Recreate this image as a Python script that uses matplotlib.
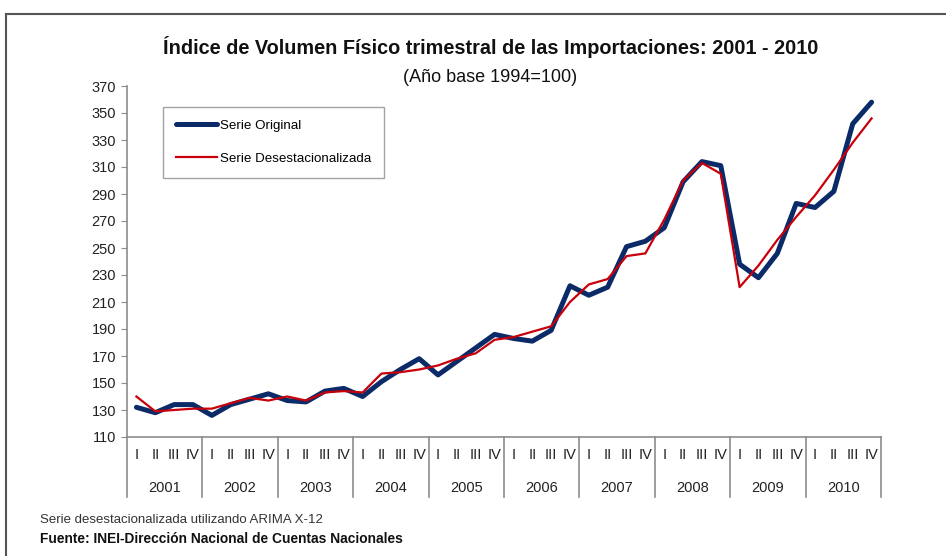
import numpy as np
import matplotlib.pyplot as plt
import matplotlib.transforms as mtransforms
from matplotlib import font_manager

years = ["2001", "2002", "2003", "2004", "2005", "2006", "2007", "2008", "2009", "2010"]
quarters = ["I", "II", "III", "IV"]

serie_original = [132, 128, 134, 134,
                  126, 134, 138, 142,
                  137, 136, 144, 146,
                  140, 151, 160, 168,
                  156, 166, 176, 186,
                  183, 181, 189, 222,
                  215, 221, 251, 255,
                  265, 299, 314, 311,
                  238, 228, 246, 283,
                  280, 292, 342, 358]

serie_desest = [140, 129, 130, 131,
                131, 135, 139, 137,
                140, 137, 143, 144,
                143, 157, 158, 160,
                163, 168, 172, 182,
                184, 188, 192, 210,
                223, 227, 244, 246,
                271, 300, 313, 305,
                221, 237, 256, 273,
                289, 308, 328, 346]

names = {f.name for f in font_manager.fontManager.ttflist}
fam = "Liberation Sans Narrow" if "Liberation Sans Narrow" in names else "Liberation Sans"
plt.rcParams['font.family'] = [fam, 'DejaVu Sans']

fig = plt.figure(figsize=(9.46, 5.56), dpi=100)
ax = fig.add_axes([127/946, 1-437/556, (881-127)/946, (437-86)/556])

x = np.arange(len(serie_original))
ax.plot(x, serie_original, color="#0b2a68", lw=3.6, solid_capstyle="round",
        label="Serie Original", zorder=3)
ax.plot(x, serie_desest, color="#c8000a", lw=1.6, label="Serie Desestacionalizada", zorder=4)

ax.set_xlim(-0.5, len(x) - 0.5)
ax.set_ylim(110, 370)
ax.set_yticks(np.arange(110, 371, 20))
ax.set_xticks([])
for s in ["top", "right"]:
    ax.spines[s].set_visible(False)
for s in ["left", "bottom"]:
    ax.spines[s].set_color("#8c8c8c")
    ax.spines[s].set_linewidth(1.2)
ax.tick_params(axis="y", direction="out", length=4, color="#8c8c8c", labelsize=10.5,
               labelcolor="#222222", pad=4)

# category axis: quarters and years
trans = mtransforms.blended_transform_factory(ax.transData, ax.transAxes)
for i in range(len(years) + 1):
    ax.plot([i * 4 - 0.5, i * 4 - 0.5], [0, -0.171], transform=trans, color="#8c8c8c",
            lw=1.2, clip_on=False)
for i, yr in enumerate(years):
    for j, q in enumerate(quarters):
        ax.text(i * 4 + j, -0.052, q, transform=trans, ha="center", va="center",
                fontsize=10.5, color="#222222")
    ax.text(i * 4 + 1.5, -0.145, yr, transform=trans, ha="center", va="center",
            fontsize=10.5, color="#222222")

leg = ax.legend(loc="upper left", bbox_to_anchor=((163-127)/754, 1-(107-86)/351),
                borderaxespad=0, frameon=True, fancybox=False, edgecolor="#8c8c8c",
                fontsize=9.6, handlelength=3.1, labelspacing=1.55, borderpad=0.95,
                handletextpad=0.2)
leg.get_frame().set_linewidth(1.0)

fig.text(491/946, 1-47/556, "Índice de Volumen Físico trimestral de las Importaciones: 2001 - 2010",
         ha="center", va="center", fontsize=14.3, fontweight="bold", color="#111111")
fig.text(490/946, 1-77/556, "(Año base 1994=100)", ha="center", va="center",
         fontsize=13, color="#111111")

fig.text(40/946, 1-520/556, "Serie desestacionalizada utilizando ARIMA X-12",
         ha="left", va="center", fontsize=9.5, color="#333333")
fig.text(40/946, 1-539/556, "Fuente: INEI-Dirección Nacional de Cuentas Nacionales",
         ha="left", va="center", fontsize=9.9, fontweight="bold", color="#111111")

# outer frame (top and left edges visible)
fig.add_artist(plt.Line2D([6/946, 1], [1-14/556, 1-14/556], transform=fig.transFigure,
                          color="#555555", lw=1.5))
fig.add_artist(plt.Line2D([6/946, 6/946], [0, 1-14/556], transform=fig.transFigure,
                          color="#555555", lw=1.5))

fig.savefig("out.png", dpi=100)
